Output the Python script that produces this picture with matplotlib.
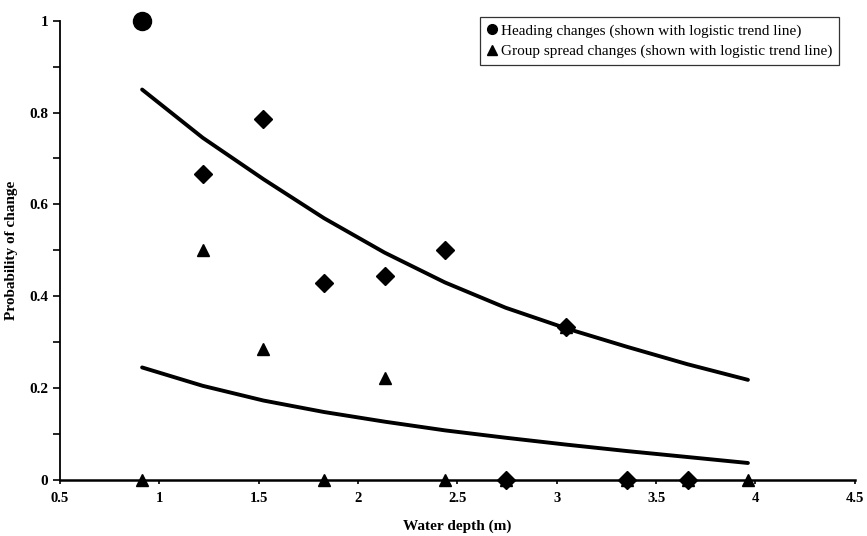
import matplotlib
matplotlib.use("Agg")
import matplotlib.pyplot as plt
from matplotlib.lines import Line2D
from matplotlib.ticker import MultipleLocator, FormatStrFormatter

# profundidades (m) - intervalos de 3 pés
depth = [0.914, 1.219, 1.524, 1.829, 2.134, 2.438, 2.743, 3.048, 3.353, 3.658, 3.962]

# mudanças de rumo (o primeiro ponto aparece como círculo)
heading_x = [1.219, 1.524, 1.829, 2.134, 2.438, 2.743, 3.048, 3.353, 3.658]
heading_y = [0.667, 0.786, 0.429, 0.444, 0.500, 0.0, 0.333, 0.0, 0.0]
circle_x = [0.914]
circle_y = [1.0]

# mudanças de espalhamento do grupo
spread_y = [0.0, 0.5, 0.286, 0.0, 0.222, 0.0, 0.0, 0.333, 0.0, 0.0, 0.0]

# linhas de tendência
heading_trend = [0.85, 0.745, 0.655, 0.57, 0.495, 0.43, 0.375, 0.33, 0.29, 0.252, 0.218]
spread_trend = [0.245, 0.205, 0.173, 0.148, 0.127, 0.108, 0.092, 0.077, 0.063, 0.050, 0.037]

plt.rcParams['font.family'] = ['Liberation Serif', 'DejaVu Serif']

fig = plt.figure(figsize=(8.67, 5.36), dpi=100)
ax = fig.add_axes([0.069, 0.1045, 0.917, 0.857])

ax.plot(depth, heading_trend, color='black', lw=2.8, solid_capstyle='round', solid_joinstyle='round')
ax.plot(depth, spread_trend, color='black', lw=2.8, solid_capstyle='round', solid_joinstyle='round')

ax.plot(depth, spread_y, linestyle='none', marker='^', color='black', ms=9, clip_on=False)
ax.plot(heading_x, heading_y, linestyle='none', marker='D', color='black', ms=9, clip_on=False)
ax.plot(circle_x, circle_y, linestyle='none', marker='o', color='black', ms=13, clip_on=False)

ax.set_xlim(0.5, 4.5)
ax.set_ylim(0, 1)
ax.xaxis.set_major_locator(MultipleLocator(0.5))
ax.xaxis.set_major_formatter(FormatStrFormatter('%g'))
ax.yaxis.set_major_locator(MultipleLocator(0.2))
ax.yaxis.set_minor_locator(MultipleLocator(0.1))
ax.yaxis.set_major_formatter(FormatStrFormatter('%g'))

ax.spines['top'].set_visible(False)
ax.spines['right'].set_visible(False)
ax.spines['left'].set_linewidth(1.3)
ax.spines['bottom'].set_linewidth(1.8)
ax.tick_params(axis='y', which='major', length=5, width=1.2, labelsize=11)
ax.tick_params(axis='y', which='minor', length=5, width=1.2)
ax.tick_params(axis='x', which='major', length=3, width=1.2, labelsize=10.5, pad=6)
for lab in ax.get_xticklabels() + ax.get_yticklabels():
    lab.set_fontweight('bold')

ax.set_xlabel('Water depth (m)', fontsize=11, fontweight='bold', labelpad=10)
ax.set_ylabel('Probability of change', fontsize=11, fontweight='bold', labelpad=8)

handles = [
    Line2D([], [], linestyle='none', marker='o', color='black', ms=7),
    Line2D([], [], linestyle='none', marker='^', color='black', ms=7),
]
labels = ['Heading changes (shown with logistic trend line)',
          'Group spread changes (shown with logistic trend line)']
leg = ax.legend(handles, labels, loc='upper right', bbox_to_anchor=(0.99, 1.025),
                fontsize=11, frameon=True, fancybox=False, edgecolor='black',
                handlelength=0.6, handletextpad=0.3, borderpad=0.45, labelspacing=0.45)
leg.get_frame().set_linewidth(0.9)

fig.savefig('out.png', dpi=100)
